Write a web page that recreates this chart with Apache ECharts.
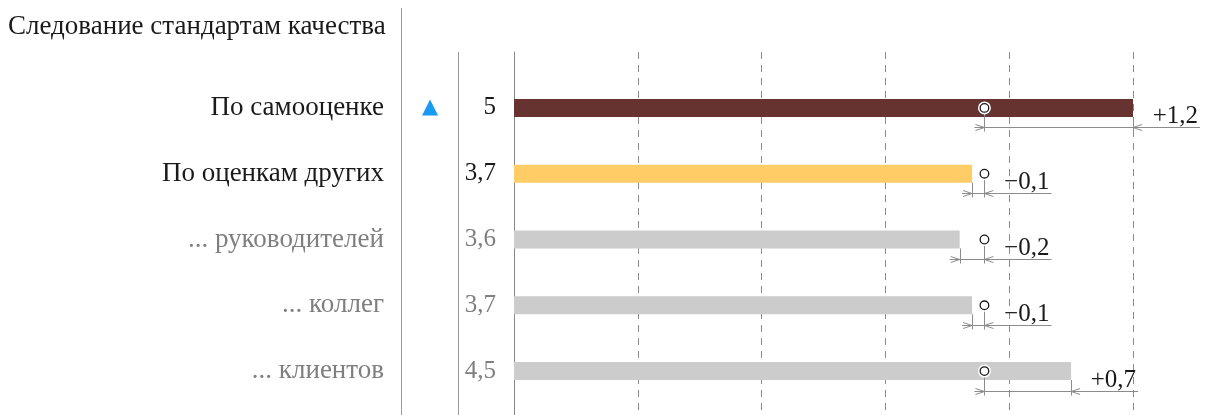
<!DOCTYPE html>
<html>
<head>
<meta charset="utf-8">
<script src="https://cdn.jsdelivr.net/npm/echarts@6/dist/echarts.min.js"></script>
<style>
  html, body { margin: 0; padding: 0; background: #fff; }
  #chart { width: 1216px; height: 415px; }
</style>
</head>
<body>
<div id="chart"></div>
<script>
// данные
const title = 'Следование стандартам качества';
const categories = ['По самооценке', 'По оценкам других', '... руководителей', '... коллег', '... клиентов'];
const scores = [5, 3.7, 3.6, 3.7, 4.5];
const benchmark = [3.8, 3.8, 3.8, 3.8, 3.8];
const trend = ['up', null, null, null, null];
const axisTicks = [0, 1, 2, 3, 4, 5];

// оформление
const FONT = '"Liberation Serif", "DejaVu Serif", serif';
const FS = 27;   // подписи
const NS = 25;   // числа
const barColors = ['#663331', '#ffcc66', '#cccccc', '#cccccc', '#cccccc'];
const BLACK = '#1a1a1a';
const GRAY = '#7f7f7f';
const LINE = '#8c8c8c';

const fmt = (v) => String(v).replace('.', ',');

function renderDiff(params, api) {
  const v = api.value(0);
  const row = api.value(1);
  const b = api.value(2);
  const pv = api.coord([v, row]);
  const pb = api.coord([b, row]);
  const cy = pv[1];
  const ly = Math.round(cy + 19.5) + 0.5;
  const x1 = Math.min(pv[0], pb[0]);
  const x2 = Math.max(pv[0], pb[0]);
  const d = Math.round((v - b) * 10) / 10;
  const txt = (d > 0 ? '+' : '\u2212') + fmt(Math.abs(d).toFixed(1));
  const ls = { stroke: LINE, lineWidth: 1, fill: null };
  const vx = Math.round(pv[0]) + 0.5;
  const bx = Math.round(pb[0]) + 0.5;
  return {
    type: 'group',
    children: [
      { type: 'line', shape: { x1: x1 - 10, y1: ly, x2: x2 + 67, y2: ly }, style: ls },
      { type: 'line', shape: { x1: vx, y1: cy + 9, x2: vx, y2: ly + 4 }, style: ls },
      { type: 'line', shape: { x1: bx, y1: cy + 5, x2: bx, y2: ly + 4 }, style: ls },
      { type: 'polyline', shape: { points: [[x1 - 9, ly - 3], [x1, ly], [x1 - 9, ly + 3]] }, style: ls },
      { type: 'polyline', shape: { points: [[x2 + 9, ly - 3], [x2, ly], [x2 + 9, ly + 3]] }, style: ls },
      {
        type: 'text',
        style: {
          text: txt, x: x2 + 65, y: ly - 11, align: 'right', verticalAlign: 'middle',
          font: NS + 'px ' + FONT, fill: BLACK
        }
      },
      { type: 'circle', shape: { cx: pb[0], cy: cy, r: 6.5 }, style: { fill: '#fff' } },
      { type: 'circle', shape: { cx: pb[0], cy: cy, r: 4.3 }, style: { fill: '#fff', stroke: BLACK, lineWidth: 1.3 } }
    ]
  };
}

const chart = echarts.init(document.getElementById('chart'));
chart.setOption({
  animation: false,
  backgroundColor: '#fff',
  title: {
    text: title,
    left: 8,
    top: 13,
    padding: 0,
    textStyle: { fontFamily: FONT, fontSize: FS, fontWeight: 'normal', color: BLACK }
  },
  graphic: [
    { type: 'line', shape: { x1: 401.5, y1: 8, x2: 401.5, y2: 415 }, style: { stroke: '#999', lineWidth: 1 } },
    { type: 'line', shape: { x1: 458.5, y1: 52, x2: 458.5, y2: 415 }, style: { stroke: '#999', lineWidth: 1 } }
  ],
  grid: [
    { left: 514, right: 83, top: 52, bottom: 0 },
    { left: 514, right: 83, top: 75, height: 329 }
  ],
  xAxis: [
    {
      gridIndex: 0, type: 'value', min: axisTicks[0], max: axisTicks[axisTicks.length - 1], interval: 1,
      axisLine: { show: false }, axisTick: { show: false }, axisLabel: { show: false },
      splitLine: { show: true, lineStyle: { color: LINE, type: [7, 6], width: 1 } }
    },
    {
      gridIndex: 1, type: 'value', min: axisTicks[0], max: axisTicks[axisTicks.length - 1], interval: 1,
      show: false
    }
  ],
  yAxis: [
    {
      gridIndex: 0, type: 'value', min: 0, max: 1,
      axisLine: { show: true, lineStyle: { color: '#888', width: 1 } },
      axisTick: { show: false }, axisLabel: { show: false }, splitLine: { show: false }
    },
    {
      gridIndex: 1, type: 'category', inverse: true, data: categories,
      axisLine: { show: false }, axisTick: { show: false }, splitLine: { show: false },
      axisLabel: {
        margin: 130,
        formatter: (val, i) => (i < 2 ? '{b|' + val + '}' : '{g|' + val + '}'),
        rich: {
          b: { fontFamily: FONT, fontSize: FS, color: BLACK },
          g: { fontFamily: FONT, fontSize: FS, color: GRAY }
        }
      }
    },
    {
      gridIndex: 1, type: 'category', inverse: true, position: 'left', offset: 0,
      data: scores.map(fmt),
      axisLine: { show: false }, axisTick: { show: false }, splitLine: { show: false },
      axisLabel: {
        margin: 18,
        formatter: (val, i) => {
          const tri = trend[i] === 'up' ? '{tri|\u25B2}' : '';
          return tri + (i < 2 ? '{b|' + val + '}' : '{g|' + val + '}');
        },
        rich: {
          tri: { fontFamily: 'DejaVu Sans', fontSize: 21, color: '#1a9af2', width: 34, align: 'left' },
          b: { fontFamily: FONT, fontSize: NS, color: BLACK, width: 40, align: 'right' },
          g: { fontFamily: FONT, fontSize: NS, color: GRAY, width: 40, align: 'right' }
        }
      }
    }
  ],
  series: [
    {
      type: 'bar',
      xAxisIndex: 1,
      yAxisIndex: 1,
      barWidth: 18,
      data: scores.map((v, i) => ({ value: v, itemStyle: { color: barColors[i] } })),
      z: 2
    },
    {
      type: 'custom',
      xAxisIndex: 1,
      yAxisIndex: 1,
      z: 3,
      encode: { x: 0, y: 1 },
      data: scores.map((v, i) => [v, i, benchmark[i]]),
      renderItem: renderDiff
    }
  ]
});
</script>
</body>
</html>
